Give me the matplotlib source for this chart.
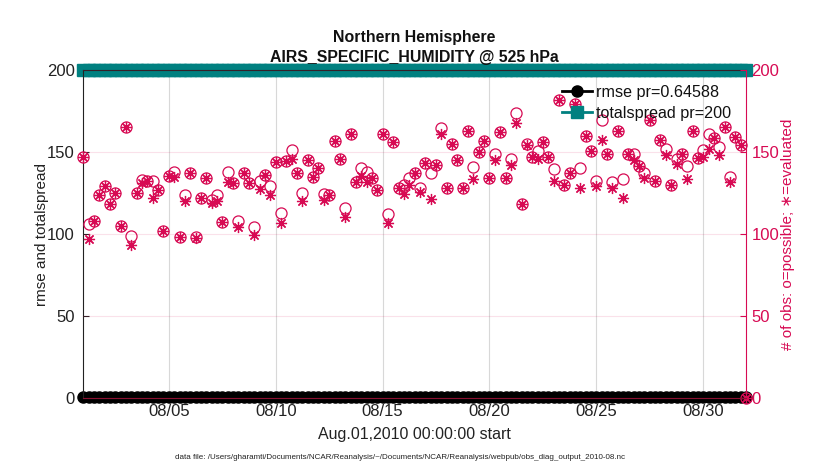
import numpy as np
import pandas as pd
import matplotlib
matplotlib.use("Agg")
import matplotlib.pyplot as plt
import matplotlib.dates as mdates

plt.rcParams['font.family'] = ['Liberation Sans', 'DejaVu Sans']

# 6-hourly bins, Aug 01 2010 00Z onwards
times = pd.date_range("2010-08-01 00:00", periods=125, freq="6h")

# number of obs possible (o) and evaluated (*) per bin
possible = [147, 106, 108, 123.5, 129, 118.5, 125, 105, 165.5, 99,
            125, 133, 132.5, 132.5, 127, 102, 135.5, 138, 98, 124,
            137.5, 98, 122, 134, 120.5, 123.5, 107.5, 138, 131, 108,
            137, 131, 104, 132.5, 136, 129.5, 144, 113, 144.5, 151,
            137.5, 125, 145, 135, 140, 124.5, 124, 156.5, 146, 116,
            161, 131.5, 140, 138, 134, 127, 161, 112.5, 156, 128,
            130, 134, 137.5, 128, 143.5, 137.5, 142, 164.5, 128, 155,
            145, 128, 163, 141, 150, 156.5, 134, 149, 162, 134,
            145.5, 173.5, 118, 155, 147, 150.5, 156, 147, 139.5, 181.5,
            130, 137.5, 179.5, 140, 160, 150.5, 132.5, 169.5, 149, 131.5,
            163, 133.5, 149, 148.5, 141.5, 137.5, 169.5, 132.5, 157.5, 152,
            130, 146, 149, 141.5, 163, 146.5, 151, 161, 158.5, 153,
            165.5, 134.5, 159, 154.5, 0]
evaluated = [147, 97, 108, 123.5, 129, 118, 125, 105, 165.5, 93.5,
             125, 131, 132.5, 122, 127, 102, 135.5, 135, 98, 120,
             137.5, 97.5, 122, 134, 119, 120, 107.5, 131.5, 131, 104,
             137, 131, 99.5, 127.5, 136, 123.5, 144, 107, 144.5, 146,
             137.5, 120, 145, 135, 140, 121, 124, 156.5, 146, 110.5,
             161, 131.5, 135.5, 131.5, 134, 127, 161, 107, 156, 128,
             124.5, 130, 137.5, 125.5, 143.5, 121.5, 142, 161, 128, 155,
             145, 128, 163, 133.5, 150, 156.5, 134, 145, 162, 134,
             142, 167.5, 118, 154, 147, 146, 156, 147, 132.5, 181.5,
             130, 137.5, 179.5, 128, 160, 150.5, 129.5, 157.5, 149, 128,
             163, 122, 149, 145, 141.5, 134, 169.5, 132.5, 157.5, 148,
             130, 143, 149, 133.5, 163, 146.5, 147, 152, 158.5, 148,
             165.5, 131.5, 159, 154.5, 0]

# rmse sits at ~0.65 and totalspread at 200 for every bin
rmse = [0.65] * len(times)
totalspread = [200.0] * len(times)

pink = '#D70A53'
teal = '#008080'

fig = plt.figure(figsize=(8.3, 4.7), dpi=100)
ax = fig.add_axes([0.1004, 0.1532, 0.7984, 0.6978])

h_rmse, = ax.plot(times, rmse, '-o', color='black', lw=2, ms=8,
                  mfc='black', mec='black', clip_on=False, zorder=2)
h_spread, = ax.plot(times, totalspread, '-s', color=teal, lw=2, ms=8,
                    mfc=teal, mec=teal, clip_on=False, zorder=2)

ax.set_xlim(times[0], times[-1])
ax.set_ylim(0, 200)
ax.set_yticks([0, 50, 100, 150, 200])
ax.xaxis.set_major_locator(mdates.DayLocator(bymonthday=[5, 10, 15, 20, 25, 30]))
ax.xaxis.set_major_formatter(mdates.DateFormatter('%m/%d'))
ax.grid(axis='x', color='#d8d8d8', lw=0.8)
ax.tick_params(direction='in', labelsize=12, length=4, top=True, colors='#222222')
ax.tick_params(axis='x', pad=4)
ax.tick_params(axis='y', pad=6)
for s in ['top', 'bottom', 'left']:
    ax.spines[s].set_color('#222222')
    ax.spines[s].set_zorder(4)
ax.spines['right'].set_visible(False)
ax.set_ylabel('rmse and totalspread', fontsize=11, color='#222222', labelpad=-1)
ax.set_xlabel('Aug.01,2010 00:00:00 start', fontsize=11.5, color='#222222', labelpad=6)
ax.set_title('Northern Hemisphere\nAIRS_SPECIFIC_HUMIDITY @ 525 hPa',
             fontsize=11.4, fontweight='bold', color='#111111', pad=6, linespacing=1.4)

ax2 = ax.twinx()
ax2.plot(times, possible, 'o', ms=8, mfc='none', mec=pink, mew=0.9, clip_on=False)
ax2.plot(times, evaluated, ls='none', marker=(8, 2, 0), ms=8, mec=pink,
         mew=0.9, clip_on=False)
ax2.set_ylim(0, 200)
ax2.set_yticks([0, 50, 100, 150, 200])
ax2.grid(axis='y', color=pink, alpha=0.12, lw=0.8)
ax2.tick_params(direction='in', labelsize=12, length=4, colors=pink, pad=4)
ax2.spines['right'].set_color(pink)
ax2.spines['bottom'].set_color('#8a1030')
ax2.spines['left'].set_visible(False)
ax2.spines['top'].set_visible(False)
ax2.set_ylabel('# of obs: o=possible; \u2217=evaluated', fontsize=11, color=pink, labelpad=1)

leg = ax2.legend([h_rmse, h_spread], ['rmse pr=0.64588', 'totalspread pr=200'],
                 loc='upper right', bbox_to_anchor=(0.988, 0.975), frameon=False,
                 fontsize=11.6, handlelength=1.9, handletextpad=0.25, labelspacing=0.38,
                 borderaxespad=0)
for t in leg.get_texts():
    t.set_color('#111111')

fig.text(0.482, 0.027, 'data file: /Users/gharamti/Documents/NCAR/Reanalysis/~/Documents/'
         'NCAR/Reanalysis/webpub/obs_diag_output_2010-08.nc',
         ha='center', va='center', fontsize=5.8, color='#222222')

fig.savefig('out.png', dpi=100)
